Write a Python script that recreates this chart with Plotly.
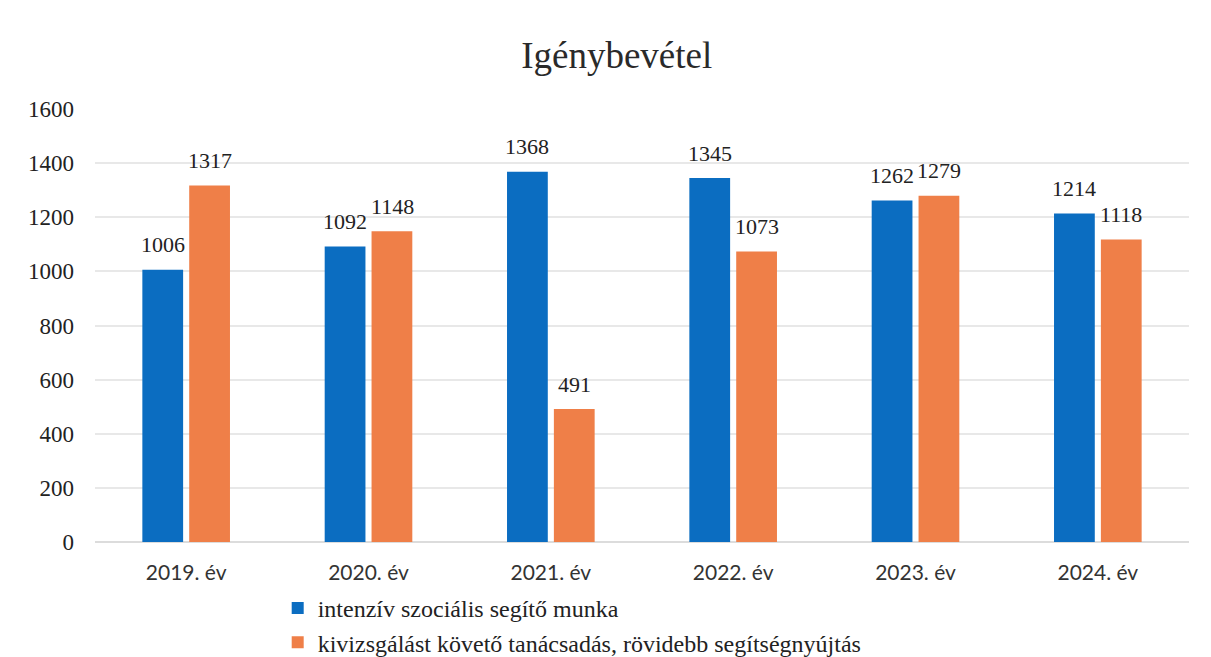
import plotly.graph_objects as go

categories = ["2019. év", "2020. év", "2021. év", "2022. év", "2023. év", "2024. év"]
series1_name = "intenzív szociális segítő munka"
series1 = [1006, 1092, 1368, 1345, 1262, 1214]
series2_name = "kivizsgálást követő tanácsadás, rövidebb segítségnyújtás"
series2 = [1317, 1148, 491, 1073, 1279, 1118]
y_ticks = [0, 200, 400, 600, 800, 1000, 1200, 1400, 1600]

blue = "#0B6DC1"
orange = "#EF7F48"
serif = "Liberation Serif"
sans = "Lato"

fig = go.Figure()
fig.add_trace(go.Bar(
    x=categories, y=series1, name=series1_name, legendgroup="a",
    marker=dict(color=blue, line=dict(width=0)),
))
fig.add_trace(go.Bar(
    x=categories, y=series2, name=series2_name, legendgroup="b",
    marker=dict(color=orange, line=dict(width=0)),
))

# value labels, placed through the axes' own scales
for vals, shift in ((series1, -23.5), (series2, 23.5)):
    for cat, v in zip(categories, vals):
        fig.add_annotation(
            x=cat, y=v, xref="x", yref="y", text=str(v), showarrow=False,
            xshift=shift, yshift=25, yanchor="middle", xanchor="center",
            font=dict(family=serif, size=22, color="#222222"),
        )

fig.update_layout(
    width=1203, height=649,
    font=dict(family=serif),
    paper_bgcolor="white", plot_bgcolor="white",
    margin=dict(l=87, r=22, t=101, b=115, autoexpand=False),
    barmode="group", bargap=0.486, bargroupgap=0.13,
    title=dict(text="Igénybevétel", x=0.506, xanchor="center", y=0.9276, yanchor="middle",
               font=dict(family=serif, size=37, color="#2a2a2a")),
    showlegend=True,
    legend=dict(orientation="v", x=0.167, xanchor="left", y=-0.1016, yanchor="top",
                font=dict(family=serif, size=24, color="#222222"),
                bgcolor="rgba(0,0,0,0)", tracegroupgap=3, traceorder="normal"),
)
fig.update_xaxes(
    showgrid=False, showline=False, zeroline=False, ticks="",
    tickfont=dict(family=sans, size=21, color="#333333"),
    ticklabelstandoff=16,
)
fig.update_yaxes(
    range=[0, 1600], tickvals=y_ticks, showgrid=True, gridcolor="#e8e8e8", gridwidth=1.5,
    zeroline=True, zerolinecolor="#dcdcdc", zerolinewidth=1.5, showline=False, ticks="",
    tickfont=dict(family=serif, size=23, color="#222222"),
    ticklabelstandoff=20,
)

fig.write_html("out.html")
